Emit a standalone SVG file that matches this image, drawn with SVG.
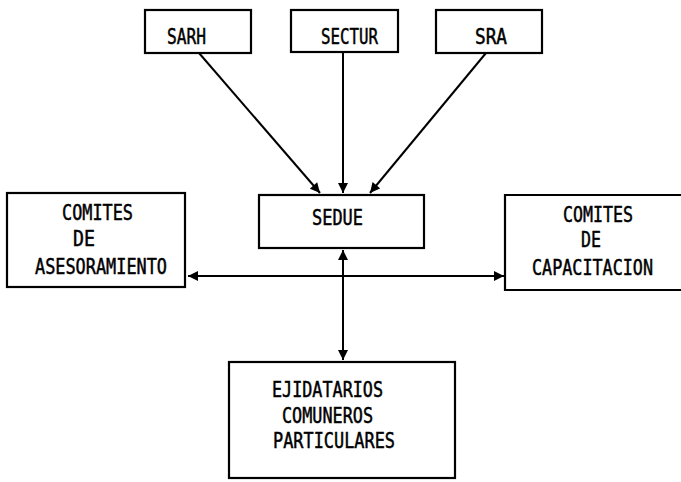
<svg xmlns="http://www.w3.org/2000/svg" width="681" height="482" viewBox="0 0 681 482">
<style>
.box{fill:#fff;stroke:#000;stroke-width:2.2}
.t{font-family:"DejaVu Sans Mono","Liberation Mono",monospace;font-size:21px;fill:#000;stroke:#000;stroke-width:0.5}
.c{stroke:#000;stroke-width:2;fill:none}
</style>
<defs>
<marker id="ah" viewBox="0 0 10 10" refX="10" refY="5" markerWidth="5.5" markerHeight="5" markerUnits="strokeWidth" orient="auto-start-reverse">
<path d="M0,0 L10,5 L0,10 z" fill="#000"/>
</marker>
</defs>
<rect width="681" height="482" fill="#fff"/>
<g id="connectors">
<line class="c" x1="199" y1="53" x2="320" y2="193" marker-end="url(#ah)"/>
<line class="c" x1="343" y1="52" x2="343" y2="193" marker-end="url(#ah)"/>
<line class="c" x1="486" y1="53" x2="370" y2="193" marker-end="url(#ah)"/>
<line class="c" x1="188" y1="276" x2="504" y2="276" marker-start="url(#ah)" marker-end="url(#ah)"/>
<line class="c" x1="343" y1="250" x2="343" y2="360" marker-start="url(#ah)" marker-end="url(#ah)"/>
</g>
<g id="sarh">
<rect class="box" x="145" y="10" width="106" height="43"/>
<text class="t" x="167" y="44" textLength="39" lengthAdjust="spacingAndGlyphs">SARH</text>
</g>
<g id="sectur">
<rect class="box" x="291" y="10" width="107" height="42"/>
<text class="t" x="321" y="44" textLength="57" lengthAdjust="spacingAndGlyphs">SECTUR</text>
</g>
<g id="sra">
<rect class="box" x="436" y="10" width="106" height="43"/>
<text class="t" x="475" y="44" textLength="32" lengthAdjust="spacingAndGlyphs">SRA</text>
</g>
<g id="sedue">
<rect class="box" x="259" y="195" width="165" height="53"/>
<text class="t" x="312" y="225" textLength="51" lengthAdjust="spacingAndGlyphs">SEDUE</text>
</g>
<g id="asesoramiento">
<rect class="box" x="7" y="193" width="178" height="94"/>
<text class="t" x="62" y="220" textLength="71" lengthAdjust="spacingAndGlyphs">COMITES</text>
<text class="t" x="73" y="246" textLength="22" lengthAdjust="spacingAndGlyphs">DE</text>
<text class="t" x="35" y="274" textLength="132" lengthAdjust="spacingAndGlyphs">ASESORAMIENTO</text>
</g>
<g id="capacitacion">
<path class="box" d="M681,195 H505 V290 H681"/>
<text class="t" x="563" y="222" textLength="70" lengthAdjust="spacingAndGlyphs">COMITES</text>
<text class="t" x="581" y="247" textLength="20" lengthAdjust="spacingAndGlyphs">DE</text>
<text class="t" x="532" y="275" textLength="121" lengthAdjust="spacingAndGlyphs">CAPACITACION</text>
</g>
<g id="ejidatarios">
<rect class="box" x="229" y="362" width="226" height="116"/>
<text class="t" x="272" y="397" textLength="111" lengthAdjust="spacingAndGlyphs">EJIDATARIOS</text>
<text class="t" x="282" y="423" textLength="91" lengthAdjust="spacingAndGlyphs">COMUNEROS</text>
<text class="t" x="273" y="448" textLength="122" lengthAdjust="spacingAndGlyphs">PARTICULARES</text>
</g>
</svg>
